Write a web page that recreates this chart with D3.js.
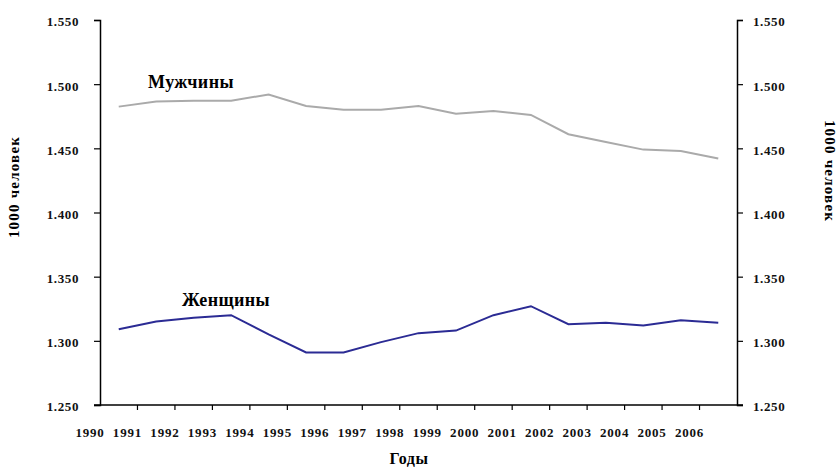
<!DOCTYPE html>
<html>
<head>
<meta charset="utf-8">
<script src="https://cdn.jsdelivr.net/npm/d3@7"></script>
<style>
  body { margin: 0; background: #fff; }
  svg text { font-family: "Liberation Serif", "Times New Roman", serif; }
</style>
</head>
<body>
<div id="chart"></div>
<script>
// Population by sex, 1990-2006 (thousand people)
const years = [1990, 1991, 1992, 1993, 1994, 1995, 1996, 1997, 1998, 1999, 2000, 2001, 2002, 2003, 2004, 2005, 2006];
const men = [1482.5, 1486.5, 1487, 1487, 1492, 1483, 1480, 1480, 1483, 1477, 1479, 1476, 1461, 1455, 1449, 1448, 1442];
const women = [1309, 1315, 1318, 1320, 1305, 1291, 1291, 1299, 1306, 1308, 1320, 1327, 1313, 1314, 1312, 1316, 1314];
const yTicks = [1250, 1300, 1350, 1400, 1450, 1500, 1550];

const width = 838, height = 468;
const margin = { top: 20, right: 101, bottom: 63, left: 100 };

const svg = d3.select('#chart').append('svg')
    .attr('width', width)
    .attr('height', height);

const x = d3.scaleBand()
    .domain(years)
    .range([margin.left, width - margin.right]);

const y = d3.scaleLinear()
    .domain([1250, 1550])
    .range([height - margin.bottom, margin.top]);

const ru = d3.formatLocale({ decimal: ',', thousands: '.', grouping: [3], currency: ['', ''] });
const fmt = ru.format(',');

const x0 = margin.left, x1 = width - margin.right, yb = height - margin.bottom;

// left axis
const left = svg.append('g')
    .attr('transform', `translate(${x0},0)`)
    .call(d3.axisLeft(y).tickValues(yTicks).tickFormat(fmt).tickSize(6).tickPadding(15));
// right axis
const right = svg.append('g')
    .attr('transform', `translate(${x1},0)`)
    .call(d3.axisRight(y).tickValues(yTicks).tickFormat(fmt).tickSize(6).tickPadding(10));

[left, right].forEach(g => {
    g.select('.domain').attr('stroke', '#000').attr('stroke-width', 1.5);
    g.selectAll('.tick line').attr('stroke', '#000').attr('stroke-width', 1.2);
    g.selectAll('text')
        .attr('font-size', 13)
        .attr('font-weight', 700)
        .attr('fill', '#111')
        .attr('dy', '0.45em')
        .style('letter-spacing', '0.6px')
        .attr('font-family', '"Liberation Serif", serif');
});

// bottom axis: ticks at category boundaries
svg.append('line')
    .attr('x1', x0 - 6).attr('x2', x1 + 6)
    .attr('y1', yb).attr('y2', yb)
    .attr('stroke', '#000').attr('stroke-width', 1.5);

svg.selectAll('.xtick')
    .data(years.slice(1))
    .enter()
    .append('line')
    .attr('x1', d => x(d)).attr('x2', d => x(d))
    .attr('y1', yb).attr('y2', yb + 5)
    .attr('stroke', '#000').attr('stroke-width', 1.2);

svg.selectAll('.xlabel')
    .data(years)
    .enter()
    .append('text')
    .attr('x', d => x(d) - 10)
    .attr('y', yb + 32)
    .attr('text-anchor', 'middle')
    .attr('font-size', 13)
    .attr('font-weight', 700)
    .attr('fill', '#111')
    .style('letter-spacing', '0.8px')
    .text(d => d);

// series lines
const line = d3.line()
    .x((d, i) => x(years[i]) + x.bandwidth() / 2)
    .y(d => y(d));

svg.append('path')
    .datum(men)
    .attr('d', line)
    .attr('fill', 'none')
    .attr('stroke', '#aaaaaa')
    .attr('stroke-width', 2);

svg.append('path')
    .datum(women)
    .attr('d', line)
    .attr('fill', 'none')
    .attr('stroke', '#2b2b94')
    .attr('stroke-width', 2);

// series labels
svg.append('text')
    .attr('x', 148).attr('y', 88)
    .attr('font-size', 18)
    .attr('font-weight', 700)
    .style('letter-spacing', '0.4px')
    .text('Мужчины');

svg.append('text')
    .attr('x', 182).attr('y', 306)
    .attr('font-size', 18)
    .attr('font-weight', 700)
    .style('letter-spacing', '0.4px')
    .text('Женщины');

// axis titles
svg.append('text')
    .attr('transform', 'translate(19,187) rotate(-90)')
    .attr('text-anchor', 'middle')
    .attr('font-size', 15)
    .attr('font-weight', 700)
    .style('letter-spacing', '1.2px')
    .text('1000 человек');

svg.append('text')
    .attr('transform', 'translate(825,171) rotate(90)')
    .attr('text-anchor', 'middle')
    .attr('font-size', 15)
    .attr('font-weight', 700)
    .style('letter-spacing', '1.2px')
    .text('1000 человек');

svg.append('text')
    .attr('x', 409).attr('y', 464)
    .attr('text-anchor', 'middle')
    .attr('font-size', 16)
    .attr('font-weight', 700)
    .style('letter-spacing', '0.5px')
    .text('Годы');
</script>
</body>
</html>
